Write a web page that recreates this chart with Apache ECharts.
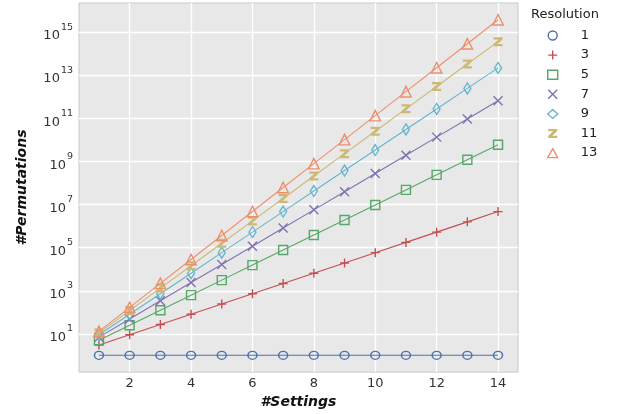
<!DOCTYPE html>
<html>
<head>
<meta charset="utf-8">
<script src="https://cdn.jsdelivr.net/npm/echarts@6/dist/echarts.min.js"></script>
<style>
html,body{margin:0;padding:0;background:#fff;}
#chart{width:618px;height:414px;}
</style>
</head>
<body>
<div id="chart"></div>
<script>
var settings = [1,2,3,4,5,6,7,8,9,10,11,12,13,14];
var resolutions = ['1','3','5','7','9','11','13'];
var perm1  = [1,1,1,1,1,1,1,1,1,1,1,1,1,1];
var perm3  = [3,9,27,81,243,729,2187,6561,19683,59049,177147,531441,1594323,4782969];
var perm5  = [5,25,125,625,3125,15625,78125,390625,1953125,9765625,48828125,244140625,1220703125,6103515625];
var perm7  = [7,49,343,2401,16807,117649,823543,5764801,40353607,282475249,1977326743,13841287201,96889010407,678223072849];
var perm9  = [9,81,729,6561,59049,531441,4782969,43046721,387420489,3486784401,31381059609,282429536481,2541865828329,22876792454961];
var perm11 = [11,121,1331,14641,161051,1771561,19487171,214358881,2357947691,25937424601,285311670611,3138428376721,34522712143931,379749833583241];
var perm13 = [13,169,2197,28561,371293,4826809,62748517,815730721,10604499373,137858491849,1792160394037,23298085122481,302875106592253,3937376385699289];
var xTicks = [2,4,6,8,10,12,14];
var yTicks = [1e1,1e3,1e5,1e7,1e9,1e11,1e13,1e15];

var allData = [perm1, perm3, perm5, perm7, perm9, perm11, perm13];
var colors = ['#4C72B0','#C44E52','#55A868','#8172B2','#64B5CD','#CCB974','#EE8E6D'];
var symbols = [
  'circle',
  'path://M5 0V10M0 5H10',
  'rect',
  'path://M0 0L10 10M10 0L0 10',
  'diamond',
  'path://M0 0H10V2.5L4.5 7.5H10V10H0V7.5L5.5 2.5H0Z',
  'triangle'
];
var sizes = [[9,8],9,9,9,[7,11],9,10.5];
var filled = [false,false,false,false,false,true,false];

var series = allData.map(function(arr, i){
  var style = filled[i] ? {color: colors[i], borderColor: colors[i], borderWidth: 0}
                        : {color: 'transparent', borderColor: colors[i], borderWidth: 1.4};
  return {
    name: resolutions[i],
    type: 'line',
    data: settings.map(function(x, k){ return [x, arr[k]]; }),
    symbol: symbols[i],
    symbolSize: sizes[i],
    showAllSymbol: true,
    lineStyle: {color: colors[i], width: 1.1},
    itemStyle: style,
    emphasis: {disabled: true},
    z: 2 + i
  };
});

var legendData = resolutions.map(function(r, i){
  return {
    name: r,
    icon: symbols[i],
    itemStyle: filled[i] ? {color: colors[i], borderWidth: 0}
                         : {color: 'transparent', borderColor: colors[i], borderWidth: 1.4}
  };
});

var chart = echarts.init(document.getElementById('chart'), null, {renderer: 'canvas'});
chart.setOption({
  animation: false,
  backgroundColor: '#ffffff',
  textStyle: {fontFamily: 'DejaVu Sans'},
  title: {
    text: 'Resolution', left: 526, top: 3,
    textStyle: {fontSize: 13, fontWeight: 'normal', color: '#222', fontFamily: 'DejaVu Sans'}
  },
  legend: {
    orient: 'vertical', left: 542, top: 24,
    itemWidth: 10, itemHeight: 9, itemGap: 6.6,
    data: legendData,
    textStyle: {fontSize: 13, color: '#222', padding: [0,0,0,18], fontFamily: 'DejaVu Sans'},
    selectedMode: false
  },
  grid: {
    left: 79, right: 100, top: 3, bottom: 41,
    show: true, backgroundColor: '#E8E8E8', borderColor: '#C8C8C8', borderWidth: 1
  },
  xAxis: {
    type: 'value', min: 0.35, max: 14.65,
    name: '#Settings', nameLocation: 'middle', nameGap: 14,
    nameTextStyle: {fontSize: 14, fontWeight: 'bold', fontStyle: 'italic', color: '#111', fontFamily: 'DejaVu Sans'},
    axisLine: {show: false},
    axisTick: {show: false, customValues: xTicks},
    axisLabel: {customValues: xTicks, fontSize: 13, color: '#333', margin: 5, fontFamily: 'DejaVu Sans'},
    splitLine: {show: true, lineStyle: {color: '#ffffff', width: 1.4}}
  },
  yAxis: {
    type: 'log', logBase: 10, min: 0.166, max: 2.37e16,
    name: '#Permutations', nameLocation: 'middle', nameGap: 50,
    nameTextStyle: {fontSize: 14, fontWeight: 'bold', fontStyle: 'italic', color: '#111', fontFamily: 'DejaVu Sans'},
    axisLine: {show: false},
    axisTick: {show: false, customValues: yTicks},
    minorTick: {show: false},
    axisLabel: {
      customValues: yTicks, margin: 6,
      formatter: function(v){
        var e = Math.round(Math.log10(v));
        return '{b|10}{s|' + e + '}';
      },
      rich: {
        b: {fontSize: 13, color: '#333', fontFamily: 'DejaVu Sans', verticalAlign: 'bottom', lineHeight: 20},
        s: {fontSize: 9.5, color: '#333', fontFamily: 'DejaVu Sans', verticalAlign: 'top', lineHeight: 20, padding: [0,0,0,1]}
      }
    },
    splitLine: {show: true, lineStyle: {color: '#ffffff', width: 1.4}}
  },
  series: series
});
</script>
</body>
</html>
